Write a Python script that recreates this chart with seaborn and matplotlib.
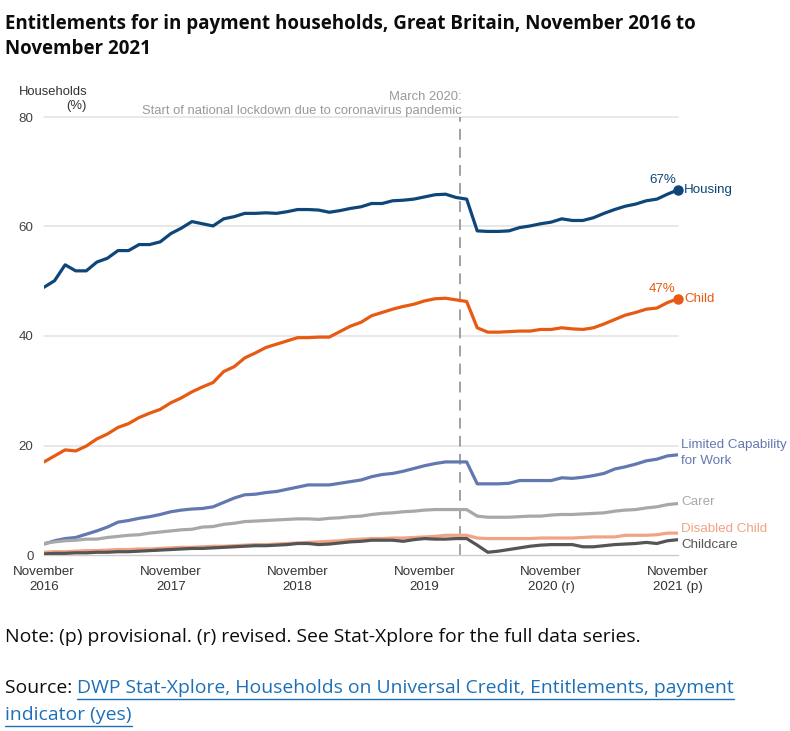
import numpy as np
import pandas as pd
import matplotlib
matplotlib.use("Agg")
import matplotlib.pyplot as plt
import seaborn as sns

# ---------------- data (monthly, Nov 2016 .. Nov 2021) ----------------
housing = [48.9, 50.1, 53.0, 51.9, 51.9, 53.5, 54.2, 55.6, 55.6, 56.7,
           56.7, 57.2, 58.7, 59.7, 60.9, 60.5, 60.1, 61.4, 61.8, 62.4,
           62.4, 62.5, 62.4, 62.7, 63.1, 63.1, 63.0, 62.6, 62.9, 63.3,
           63.6, 64.2, 64.2, 64.7, 64.8, 65.0, 65.4, 65.8, 65.9, 65.3,
           65.0, 59.2, 59.1, 59.1, 59.2, 59.8, 60.1, 60.5, 60.8, 61.4,
           61.1, 61.1, 61.6, 62.4, 63.1, 63.7, 64.1, 64.7, 65.0, 65.9,
           66.7]
child = [17.0, 18.1, 19.2, 19.0, 19.9, 21.2, 22.1, 23.3, 24.0, 25.1,
         25.9, 26.6, 27.8, 28.7, 29.8, 30.7, 31.5, 33.5, 34.4, 36.0,
         36.9, 37.9, 38.5, 39.1, 39.7, 39.7, 39.8, 39.8, 40.8, 41.8,
         42.5, 43.7, 44.3, 44.9, 45.4, 45.8, 46.4, 46.8, 46.9, 46.6,
         46.3, 41.5, 40.7, 40.7, 40.8, 40.9, 40.9, 41.2, 41.2, 41.5,
         41.3, 41.2, 41.5, 42.2, 43.0, 43.8, 44.3, 44.9, 45.1, 46.1,
         46.8]
lcw = [2.0, 2.6, 3.0, 3.2, 3.8, 4.4, 5.1, 6.0, 6.3, 6.7,
       7.0, 7.4, 7.9, 8.2, 8.4, 8.5, 8.8, 9.6, 10.4, 11.0,
       11.1, 11.4, 11.6, 12.0, 12.4, 12.8, 12.8, 12.8, 13.1, 13.4,
       13.7, 14.3, 14.7, 14.9, 15.3, 15.8, 16.3, 16.7, 17.0, 17.0,
       17.0, 13.0, 13.0, 13.0, 13.1, 13.6, 13.6, 13.6, 13.6, 14.1,
       14.0, 14.2, 14.5, 14.9, 15.7, 16.1, 16.6, 17.2, 17.5, 18.1,
       18.3]
carer = [2.1, 2.4, 2.6, 2.7, 2.9, 2.9, 3.2, 3.4, 3.6, 3.7,
         4.0, 4.2, 4.4, 4.6, 4.7, 5.1, 5.2, 5.6, 5.8, 6.1,
         6.2, 6.3, 6.4, 6.5, 6.6, 6.6, 6.5, 6.7, 6.8, 7.0,
         7.1, 7.4, 7.6, 7.7, 7.9, 8.0, 8.2, 8.3, 8.3, 8.3,
         8.3, 7.1, 6.9, 6.9, 6.9, 7.0, 7.1, 7.1, 7.3, 7.4,
         7.4, 7.5, 7.6, 7.7, 8.0, 8.2, 8.3, 8.6, 8.8, 9.2,
         9.4]
disabled_child = [0.5, 0.6, 0.6, 0.7, 0.8, 0.8, 0.9, 1.0, 1.0, 1.1,
                  1.1, 1.2, 1.3, 1.4, 1.4, 1.5, 1.6, 1.6, 1.7, 1.8,
                  1.9, 1.9, 2.0, 2.1, 2.2, 2.3, 2.4, 2.5, 2.6, 2.8,
                  2.9, 3.0, 3.0, 3.1, 3.1, 3.2, 3.3, 3.4, 3.6, 3.6,
                  3.6, 3.1, 3.0, 3.0, 3.0, 3.0, 3.0, 3.1, 3.1, 3.1,
                  3.1, 3.2, 3.3, 3.3, 3.3, 3.6, 3.6, 3.6, 3.7, 4.0,
                  4.0]
childcare = [0.2, 0.3, 0.3, 0.4, 0.4, 0.5, 0.5, 0.6, 0.6, 0.7,
             0.8, 0.9, 1.0, 1.1, 1.2, 1.2, 1.3, 1.4, 1.5, 1.6,
             1.7, 1.7, 1.8, 1.9, 2.1, 2.1, 1.9, 2.0, 2.2, 2.4,
             2.5, 2.7, 2.7, 2.7, 2.5, 2.8, 3.0, 2.9, 2.9, 3.0,
             3.0, 1.8, 0.5, 0.7, 1.0, 1.3, 1.6, 1.8, 1.9, 1.9,
             1.9, 1.5, 1.5, 1.7, 1.9, 2.0, 2.1, 2.3, 2.1, 2.6,
             2.8]

series_names = ["Housing", "Child", "Limited Capability for Work",
                "Carer", "Disabled Child", "Childcare"]
series_values = [housing, child, lcw, carer, disabled_child, childcare]
series_colors = ["#0F467A", "#E65A12", "#6478B0", "#A8A8A8", "#F2A384", "#555555"]
end_labels = ["Housing", "Child", "Limited Capability\nfor Work",
              "Carer", "Disabled Child", "Childcare"]
label_offsets = [0.0, 0.0, 0.35, 0.3, 0.8, -0.9]  # value-space nudge of end labels

tick_positions = [0, 12, 24, 36, 48, 60]
tick_labels = ["November\n2016", "November\n2017", "November\n2018",
               "November\n2019", "November\n2020 (r)", "November\n2021 (p)"]
lockdown_x = 39.35
y_ticks = [0, 20, 40, 60, 80]

# ---------------- build long table ----------------
months = np.arange(len(housing))
df = pd.concat([pd.DataFrame({"month": months, "value": v, "series": n})
                for n, v in zip(series_names, series_values)], ignore_index=True)

sns.set_theme(style="white")
plt.rcParams["font.family"] = ["Liberation Sans", "DejaVu Sans"]

W, H = 790, 731
fig = plt.figure(figsize=(W / 100, H / 100), dpi=100)
ax = fig.add_axes([44 / W, 1 - 555 / H, (678 - 44) / W, (555 - 117) / H])

sns.lineplot(data=df, x="month", y="value", hue="series", hue_order=series_names,
             palette=series_colors, linewidth=2.3, legend=False, ax=ax, zorder=3)

ax.set_xlim(0, 60)
ax.set_ylim(0, 80)
ax.set_xlabel("")
ax.set_ylabel("")

# gridlines
for yv in y_ticks[1:]:
    ax.axhline(yv, color="#e1e1e1", lw=1.1, zorder=1, clip_on=False)
for s in ["top", "right", "left"]:
    ax.spines[s].set_visible(False)
ax.spines["bottom"].set_color("#cccccc")
ax.spines["bottom"].set_linewidth(1.0)

ax.set_yticks(y_ticks)
ax.set_yticklabels([str(v) for v in y_ticks])
ax.tick_params(axis="y", length=0, pad=7.5, labelsize=9.6, labelcolor="#444444")
ax.set_xticks(tick_positions)
ax.set_xticklabels(tick_labels)
ax.set_xticks(np.arange(0, 61), minor=True)
ax.tick_params(axis="x", which="both", length=5, width=0.8, color="#cccccc",
               labelsize=9.6, labelcolor="#333333", pad=3)
for lab in ax.get_xticklabels():
    lab.set_linespacing(1.35)

# lockdown reference line
ax.axvline(lockdown_x, color="#9a9a9a", lw=1.3, ls=(0, (6, 4)), zorder=2)
ax.text(lockdown_x + 0.2, 80.0, "March 2020:\nStart of national lockdown due to coronavirus pandemic",
        ha="right", va="bottom", fontsize=9.4, color="#9a9a9a", linespacing=1.25,
        multialignment="right")

# end markers and labels
for i, (n, v, c) in enumerate(zip(series_names, series_values, series_colors)):
    if n in ("Housing", "Child"):
        ax.plot(60, v[-1], "o", color=c, ms=6.5, zorder=4, clip_on=False)
        ax.text(59.8, v[-1] + 0.7, f"{round(v[-1]):.0f}%", ha="right", va="bottom",
                fontsize=9.6, color=c)
        ax.text(60.6, v[-1], end_labels[i], ha="left", va="center", fontsize=9.6, color=c)
    else:
        ax.text(60.3, v[-1] + label_offsets[i], end_labels[i], ha="left", va="center",
                fontsize=9.6, color=c, linespacing=1.45)

# axis title
fig.text(87 / W, 1 - 86 / H, "Households\n(%)", ha="right", va="top", fontsize=9.4,
         color="#333333", multialignment="right", linespacing=1.2)

# main title
fig.text(5 / W, 1 - 14 / H,
         "Entitlements for in payment households, Great Britain, November 2016 to\nNovember 2021",
         ha="left", va="top", fontsize=13.5, fontweight="bold", family="Open Sans",
         color="#0b0c0c", linespacing=1.35)

# note and source
fs_note = 13.95
fig.text(5 / W, 1 - 637 / H,
         "Note: (p) provisional. (r) revised. See Stat-Xplore for the full data series.",
         ha="left", va="center", fontsize=fs_note, family="Open Sans", color="#0b0c0c")
src = fig.text(5 / W, 1 - 688 / H, "Source: ", ha="left", va="center", fontsize=fs_note,
               family="Open Sans", color="#0b0c0c")
fig.canvas.draw()
r = fig.canvas.get_renderer()
bb = src.get_window_extent(r)
link_lines = ["DWP Stat-Xplore, Households on Universal Credit, Entitlements, payment",
              "indicator (yes)"]
link_pos = [(bb.x1 / W, 688), (5 / W, 715)]
for txt, (xf, ypx) in zip(link_lines, link_pos):
    t = fig.text(xf, 1 - ypx / H, txt, ha="left", va="center", fontsize=fs_note,
                 family="Open Sans", color="#1d70b8")
    tb = t.get_window_extent(r)
    uy = 1 - (ypx + 11) / H
    fig.add_artist(plt.Line2D([tb.x0 / W, tb.x1 / W], [uy, uy], color="#1d70b8",
                              lw=1.0, transform=fig.transFigure))

fig.savefig("out.png", dpi=100)
